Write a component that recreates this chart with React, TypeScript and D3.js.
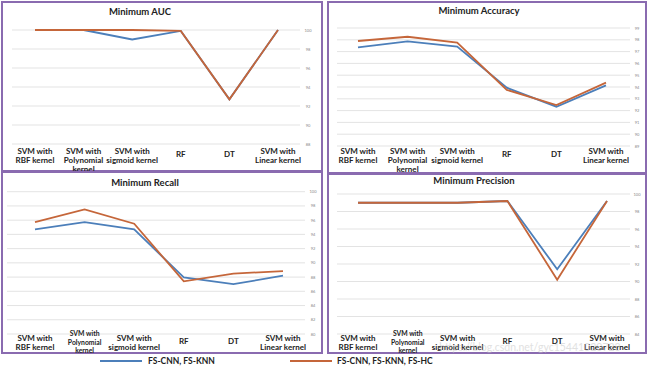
import React from "react";
import * as d3 from "d3";

const categoryLines = [
  ["SVM with", "RBF kernel"],
  ["SVM with", "Polynomial", "kernel"],
  ["SVM with", "sigmoid kernel"],
  ["RF"],
  ["DT"],
  ["SVM with", "Linear kernel"],
];
const categories = categoryLines.map((l) => l.join(" "));

const seriesNames = ["FS-CNN, FS-KNN", "FS-CNN, FS-KNN, FS-HC"];

const aucCnnKnn = [100, 100, 99.0, 99.9, 92.7, 100];
const aucCnnKnnHc = [100, 100, 100, 99.9, 92.7, 100];
const aucTicks = [88, 90, 92, 94, 96, 98, 100];

const accuracyCnnKnn = [97.36, 97.87, 97.42, 93.94, 92.33, 94.14];
const accuracyCnnKnnHc = [97.9, 98.26, 97.76, 93.75, 92.47, 94.37];
const accuracyTicks = [89, 90, 91, 92, 93, 94, 95, 96, 97, 98, 99];

const recallCnnKnn = [94.7, 95.73, 94.7, 87.94, 87.0, 88.2];
const recallCnnKnnHc = [95.73, 97.5, 95.5, 87.4, 88.5, 88.83];
const recallTicks = [80, 82, 84, 86, 88, 90, 92, 94, 96, 98, 100];

const precisionCnnKnn = [99.0, 99.0, 99.0, 99.2, 91.4, 99.2];
const precisionCnnKnnHc = [99.0, 99.0, 99.0, 99.2, 90.2, 99.2];
const precisionTicks = [84, 86, 88, 90, 92, 94, 96, 98, 100];

const BLUE = "#4c7fba";
const ORANGE = "#c5663a";
const PURPLE = "#8a6bb0";
const FONT = "Lato, 'Open Sans', sans-serif";

type PanelProps = {
  title: string;
  blue: number[];
  orange: number[];
  ticks: number[];
  frame: [number, number, number, number];
  gridX: [number, number];
  pointX: [number, number];
  yRange: [number, number];
  titleX: number;
  titleY: number;
  labelY: number;
  tickX: number;
  small?: boolean;
};

const Panel = ({
  title, blue, orange, ticks, frame, gridX, pointX, yRange, titleX, titleY, labelY, tickX, small,
}: PanelProps) => {
  const x = d3.scalePoint().domain(categories).range(pointX);
  const y = d3
    .scaleLinear()
    .domain([ticks[0], ticks[ticks.length - 1]])
    .range(yRange);
  const line = d3
    .line<number>()
    .x((_, i) => x(categories[i]) as number)
    .y((d) => y(d));

  return (
    <g>
      <rect
        x={frame[0]}
        y={frame[1]}
        width={frame[2]}
        height={frame[3]}
        fill="#fff"
        stroke={PURPLE}
        strokeWidth={2}
      />
      <text x={titleX} y={titleY} textAnchor="middle" fontFamily={FONT} fontWeight="bold" fontSize={9.5} fill="#222">
        {title}
      </text>
      {ticks.map((t) => (
        <g key={t}>
          <line x1={gridX[0]} x2={gridX[1]} y1={y(t)} y2={y(t)} stroke="#dcdcdc" strokeWidth={0.8} />
          <text x={tickX} y={y(t) + 1.5} textAnchor="middle" fontFamily={FONT} fontSize={4} fill="#888">
            {t}
          </text>
        </g>
      ))}
      <path d={line(blue) || ""} fill="none" stroke={BLUE} strokeWidth={1.8} />
      <path d={line(orange) || ""} fill="none" stroke={ORANGE} strokeWidth={1.8} />
      {categoryLines.map((lines, i) => {
        const tight = small && lines.length > 2;
        const fs = tight ? 6.8 : 8;
        const lh = tight ? 8.5 : 9;
        const start = lines.length === 1 ? labelY + 3 : tight ? labelY - 5 : labelY;
        return (
          <text
            key={i}
            x={x(categories[i])}
            textAnchor="middle"
            fontFamily={FONT}
            fontWeight="bold"
            fontSize={fs}
            fill="#222"
          >
            {lines.map((l, j) => (
              <tspan key={j} x={x(categories[i])} y={start + j * lh}>
                {l}
              </tspan>
            ))}
          </text>
        );
      })}
    </g>
  );
};

export default function App() {
  return (
    <div style={{ position: "absolute", left: 0, top: 0 }}>
      <svg width={650} height={369} style={{ display: "block", background: "#fff" }}>
        <Panel
          title="Minimum AUC"
          blue={aucCnnKnn}
          orange={aucCnnKnnHc}
          ticks={aucTicks}
          frame={[2, 2, 320, 169]}
          gridX={[12, 300]}
          pointX={[35, 278]}
          yRange={[144, 30]}
          titleX={140}
          titleY={15}
          labelY={154}
          tickX={308}
        />
        <Panel
          title="Minimum Accuracy"
          blue={accuracyCnnKnn}
          orange={accuracyCnnKnnHc}
          ticks={accuracyTicks}
          frame={[328, 2, 318, 171]}
          gridX={[337, 630]}
          pointX={[358, 606]}
          yRange={[146, 28]}
          titleX={479}
          titleY={14}
          labelY={154}
          tickX={637}
        />
        <Panel
          title="Minimum Recall"
          blue={recallCnnKnn}
          orange={recallCnnKnnHc}
          ticks={recallTicks}
          frame={[2, 172, 320, 181]}
          gridX={[7, 305]}
          pointX={[35, 283]}
          yRange={[334, 191.7]}
          titleX={145}
          titleY={186}
          labelY={341}
          tickX={313}
          small
        />
        <Panel
          title="Minimum Precision"
          blue={precisionCnnKnn}
          orange={precisionCnnKnnHc}
          ticks={precisionTicks}
          frame={[328, 174, 318, 179]}
          gridX={[337, 630]}
          pointX={[358, 607]}
          yRange={[334, 194]}
          titleX={474}
          titleY={184}
          labelY={341}
          tickX={637}
          small
        />
        <text x={530} y={351} textAnchor="middle" fontFamily={FONT} fontSize={10.5} fill="#c4c4c4" opacity={0.5}>
          https://blog.csdn.net/gyc15441020723
        </text>
        <line x1={100} x2={142} y1={361} y2={361} stroke={BLUE} strokeWidth={2} />
        <text x={148} y={364} fontFamily={FONT} fontWeight="bold" fontSize={8.5} fill="#222">
          {seriesNames[0]}
        </text>
        <line x1={290} x2={332} y1={361} y2={361} stroke={ORANGE} strokeWidth={2} />
        <text x={337} y={364} fontFamily={FONT} fontWeight="bold" fontSize={8.5} fill="#222">
          {seriesNames[1]}
        </text>
      </svg>
    </div>
  );
}
